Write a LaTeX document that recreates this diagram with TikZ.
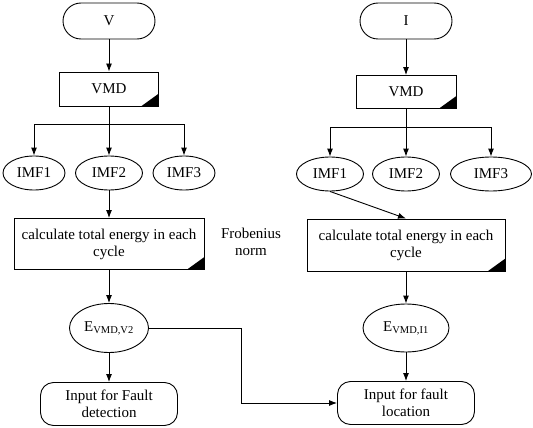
\documentclass[tikz,border=0pt]{standalone}
\usepackage{fontspec}
\setmainfont{Liberation Serif}
\usetikzlibrary{arrows.meta,shapes.geometric}

\newcommand{\blkcorner}[1]{\fill (#1.south east) -- ++(-18,0) -- ++(18,-13) -- cycle;}

\begin{document}
\begin{tikzpicture}[x=1pt,y=1pt,yscale=-1,xscale=1,
  line width=0.9pt,
  every node/.style={font=\fontsize{15}{17}\selectfont,inner sep=0.75pt},
  term/.style={draw,rounded corners=18pt,minimum width=92pt,minimum height=36pt},
  proc/.style={draw,rectangle,align=center},
  imf/.style={draw,ellipse,minimum height=34pt},
  outbox/.style={draw,rounded corners=13pt,minimum width=137pt,minimum height=43pt,align=center},
  arr/.style={-{Latex[length=8pt,width=6pt]}}]
\useasboundingbox (0,0) rectangle (533,428);

%Shape: Terminal [id:V]
\node [term] (sigV) at (109,21) {V};
%Shape: Terminal [id:I]
\node [term] (sigI) at (406,21) {I};

%Shape: Rectangle [id:vmdV]
\node [proc,minimum width=99pt,minimum height=34pt] (vmdV) at (109,89) {VMD};
%Shape: Rectangle [id:vmdI]
\node [proc,minimum width=100pt,minimum height=33pt] (vmdI) at (406,92) {VMD};

%Shape: Ellipse [id:imf V side]
\node [imf,minimum width=62pt] (imfVa) at (34,173) {IMF1};
\node [imf,minimum width=67pt] (imfVb) at (109,173) {IMF2};
\node [imf,minimum width=62pt] (imfVc) at (184,173) {IMF3};
%Shape: Ellipse [id:imf I side]
\node [imf,minimum width=67pt] (imfIa) at (330,174) {IMF1};
\node [imf,minimum width=67pt] (imfIb) at (406,174) {IMF2};
\node [imf,minimum width=81pt] (imfIc) at (491,174) {IMF3};

%Shape: Rectangle [id:calcV]
\node [proc,minimum width=190pt,minimum height=51pt] (calcV) at (109,244) {calculate total energy in each\\cycle};
%Shape: Rectangle [id:calcI]
\node [proc,minimum width=198pt,minimum height=52pt] (calcI) at (406,245) {calculate total energy in each\\cycle};

%Shape: Ellipse [id:EV]
\node [draw,ellipse,minimum width=79pt,minimum height=49pt] (EV) at (109,328) {E\textsubscript{VMD,V2}};
%Shape: Ellipse [id:EI]
\node [draw,ellipse,minimum width=86pt,minimum height=48pt] (EI) at (406,328) {E\textsubscript{VMD,I1}};

%Shape: Rounded Rect [id:inFD]
\node [outbox] (inFD) at (109,404) {Input for Fault\\detection};
%Shape: Rounded Rect [id:inFL]
\node [outbox] (inFL) at (406,403) {Input for fault\\location};

% Text Node
\node [align=center] (frob) at (251,242) {Frobenius\\norm};

%black corners
\blkcorner{vmdV}
\blkcorner{vmdI}
\blkcorner{calcV}
\blkcorner{calcI}

\coordinate (splitV) at (109,124);
\coordinate (splitI) at (406,127);
\coordinate (jog) at (241,328);

%Straight Lines
\draw [arr] (sigV) -- (vmdV);
\draw [arr] (vmdV.south) -- (imfVb.north);
\draw [arr] (vmdV.south) -- (splitV) -| (imfVa.north);
\draw [arr] (splitV) -| (imfVc.north);
\draw [arr] (imfVb) -- (calcV);
\draw [arr] (calcV) -- (EV);
\draw [arr] (EV) -- (inFD);
\draw [arr] (EV.east) -- (jog) |- (inFL.west);

\draw [arr] (sigI) -- (vmdI);
\draw [arr] (vmdI.south) -- (imfIb.north);
\draw [arr] (vmdI.south) -- (splitI) -| (imfIa.north);
\draw [arr] (splitI) -| (imfIc.north);
\draw [arr] (imfIa.south) -- (calcI.north);
\draw [arr] (calcI) -- (EI);
\draw [arr] (EI) -- (inFL);

\end{tikzpicture}
\end{document}
